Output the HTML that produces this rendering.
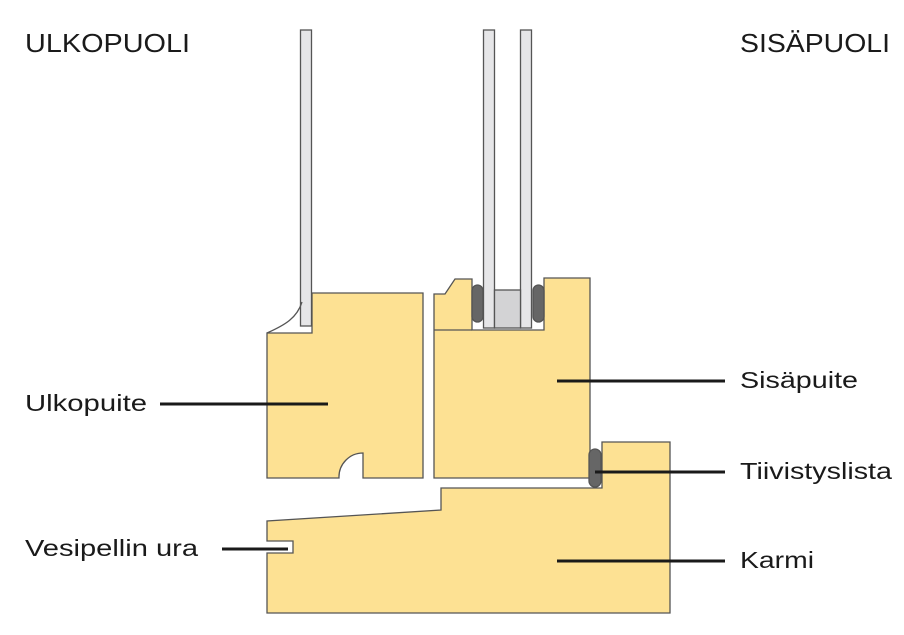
<!DOCTYPE html>
<html><head><meta charset="utf-8"><style>html,body{margin:0;padding:0;background:#fff}svg{display:block}</style></head>
<body>
<svg width="904" height="635" viewBox="0 0 904 635" xmlns="http://www.w3.org/2000/svg" font-family="Liberation Sans, sans-serif" fill="#1a1a1a">
<g stroke="#555" stroke-width="1.3">
<!-- glass -->
<rect x="300.5" y="30" width="11" height="296" fill="#e6e6e8"/>
<rect x="483.5" y="30" width="11" height="298" fill="#e6e6e8"/>
<rect x="520.5" y="30" width="11" height="298" fill="#e6e6e8"/>
<rect x="494.5" y="290" width="26" height="38" fill="#d3d3d5"/>
<!-- left sash -->
<path d="M267,478 L267,333 L312,333 L312,293 L423,293 L423,478 L363,478 L363,453 A24,24 0 0 0 339,478 Z" fill="#fde193"/>
<path d="M267,333 C285,325 297,318 302,302" fill="none"/>
<!-- right sash -->
<path d="M434,478 L434,294 L445,294 L455,279 L472,279 L472,330 L544,330 L544,278 L590,278 L590,478 Z" fill="#fde193"/>
<line x1="434" y1="330" x2="472" y2="330"/>
<!-- gaskets -->
<rect x="472" y="285" width="11" height="37" rx="5.5" fill="#666"/>
<rect x="533" y="285" width="11" height="37" rx="5.5" fill="#666"/>
<!-- frame -->
<path d="M267,613 L267,553 L293,553 L293,541 L267,541 L267,521 L441,510 L441,488 L602,488 L602,442 L670,442 L670,613 Z" fill="#fde193"/>
<rect x="589" y="449" width="12" height="38" rx="6" fill="#666"/>
</g>
<g stroke="#1a1a1a" stroke-width="3">
<line x1="160" y1="404" x2="328" y2="404"/>
<line x1="557" y1="381" x2="725" y2="381"/>
<line x1="595" y1="472" x2="725" y2="472"/>
<line x1="557" y1="561" x2="725" y2="561"/>
<line x1="222" y1="549" x2="288" y2="549"/>
</g>
<g font-size="26">
<text x="25" y="52" textLength="165" lengthAdjust="spacingAndGlyphs">ULKOPUOLI</text>
<text x="740" y="52" textLength="150" lengthAdjust="spacingAndGlyphs">SISÄPUOLI</text>
</g>
<g font-size="23">
<text x="25" y="411" textLength="122" lengthAdjust="spacingAndGlyphs">Ulkopuite</text>
<text x="740" y="388" textLength="118" lengthAdjust="spacingAndGlyphs">Sisäpuite</text>
<text x="740" y="479" textLength="152" lengthAdjust="spacingAndGlyphs">Tiivistyslista</text>
<text x="740" y="568" textLength="74" lengthAdjust="spacingAndGlyphs">Karmi</text>
<text x="25" y="556" textLength="173" lengthAdjust="spacingAndGlyphs">Vesipellin ura</text>
</g>
</svg>
</body></html>
